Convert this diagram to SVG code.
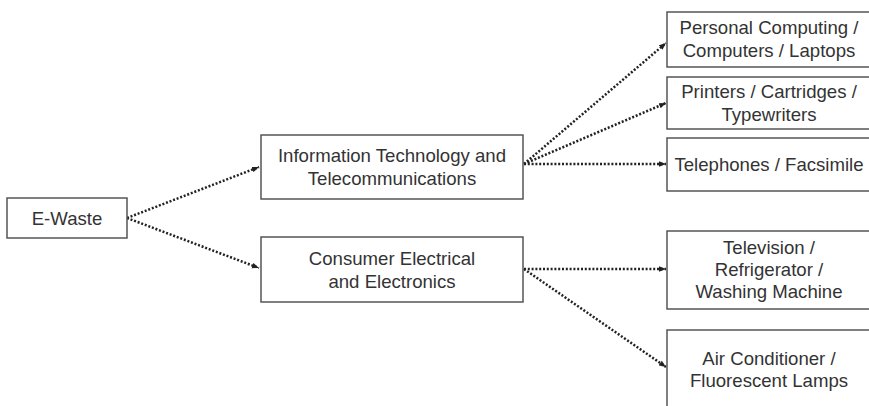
<svg xmlns="http://www.w3.org/2000/svg" width="869" height="406" viewBox="0 0 869 406">
<style>
.box{fill:#fff;stroke:#555;stroke-width:1.5}
text{font-family:"Liberation Sans",Arial,sans-serif;font-size:18.6px;fill:#333;text-anchor:middle}
.c{fill:none;stroke:#222;stroke-width:2.5;stroke-dasharray:2 1.8}
</style>
<defs>
<marker id="ah" viewBox="0 0 10 10" refX="10" refY="5" markerWidth="7" markerHeight="7" markerUnits="userSpaceOnUse" orient="auto">
<path d="M0,1 L10,5 L0,9 Z" fill="#222"/>
</marker>
</defs>
<rect width="869" height="406" fill="#fff"/>
<g id="connectors">
<path class="c" d="M127,218 L259,167" marker-end="url(#ah)"/>
<path class="c" d="M127,218 L259,268" marker-end="url(#ah)"/>
<path class="c" d="M524,164 L666,43" marker-end="url(#ah)"/>
<path class="c" d="M524,164 L666,103" marker-end="url(#ah)"/>
<path class="c" d="M524,164 L666,164" marker-end="url(#ah)"/>
<path class="c" d="M524,269 L666,269" marker-end="url(#ah)"/>
<path class="c" d="M524,269 L666,367" marker-end="url(#ah)"/>
</g>
<g id="ewaste">
<rect class="box" x="7" y="198" width="120" height="40"/>
<text x="67" y="224.5">E-Waste</text>
</g>
<g id="it">
<rect class="box" x="261" y="135" width="262" height="64"/>
<text x="392" y="162">Information Technology and</text>
<text x="392" y="184.5">Telecommunications</text>
</g>
<g id="consumer">
<rect class="box" x="261" y="237" width="262" height="65"/>
<text x="392" y="265">Consumer Electrical</text>
<text x="392" y="287.5">and Electronics</text>
</g>
<g id="personal">
<rect class="box" x="667" y="12" width="204" height="55"/>
<text x="769" y="34">Personal Computing /</text>
<text x="769" y="56.5">Computers / Laptops</text>
</g>
<g id="printers">
<rect class="box" x="667" y="77" width="204" height="52"/>
<text x="769" y="98">Printers / Cartridges /</text>
<text x="769" y="120.5">Typewriters</text>
</g>
<g id="telephones">
<rect class="box" x="667" y="138" width="204" height="53"/>
<text x="769" y="170.5">Telephones / Facsimile</text>
</g>
<g id="television">
<rect class="box" x="667" y="231" width="204" height="78"/>
<text x="769" y="253.5">Television /</text>
<text x="769" y="275.5">Refrigerator /</text>
<text x="769" y="297.5">Washing Machine</text>
</g>
<g id="aircon">
<rect class="box" x="667" y="330" width="204" height="80"/>
<text x="769" y="365">Air Conditioner /</text>
<text x="769" y="387">Fluorescent Lamps</text>
</g>
</svg>
